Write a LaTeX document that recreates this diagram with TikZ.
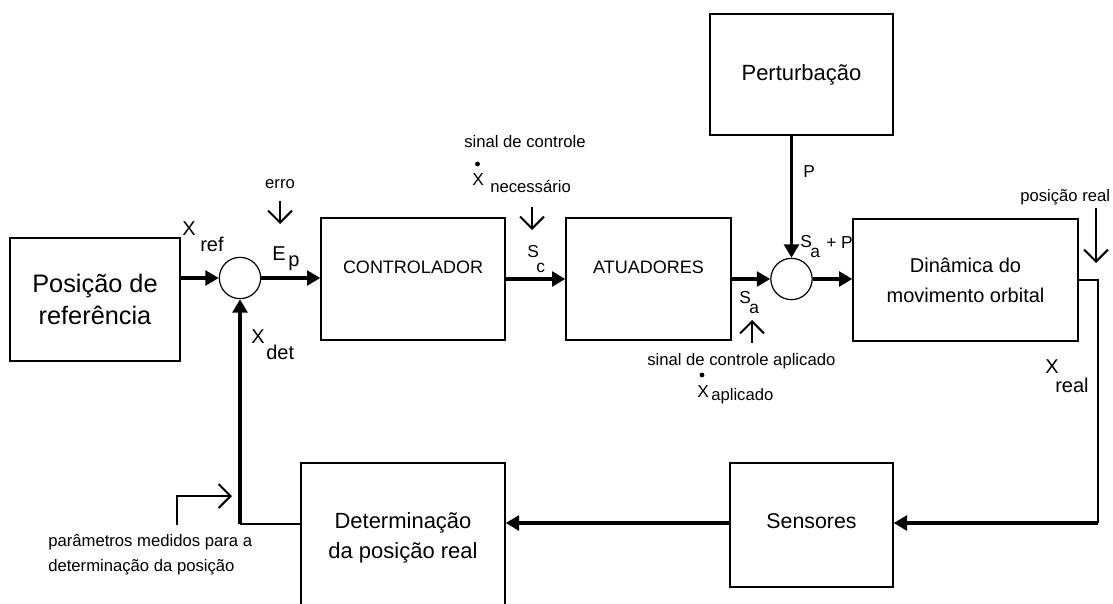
\documentclass[tikz,border=0pt]{standalone}
\usepackage{fontspec}
\setmainfont{Liberation Sans}
\usetikzlibrary{arrows.meta}
\begin{document}
\begin{tikzpicture}[x=0.75pt,y=-0.75pt,
  box/.style={draw, line width=1pt, inner sep=0pt, align=center},
  sumnode/.style={draw, circle, line width=0.9pt, minimum size=31pt, inner sep=0pt},
  sig/.style={line width=2.8pt, -{Triangle[length=10pt,width=11pt]}},
  thinln/.style={line width=1pt},
  note/.style={line width=1.5pt, -{Straight Barb[length=9pt,width=18pt]}},
  lbl/.style={inner sep=0pt, anchor=base west},
  lblc/.style={inner sep=0pt, anchor=base},
  small/.style={font=\fontsize{12.5}{15}\selectfont},
  big/.style={font=\fontsize{15}{18}\selectfont},
  mid/.style={font=\fontsize{13}{16}\selectfont}
]
\useasboundingbox (0,0) rectangle (1113,603);
\clip (0,0) rectangle (1113,603);
\fill[white] (0,0) rectangle (1113,603);

% blocks
\node[box, minimum width=127.5pt, minimum height=92.25pt, font=\fontsize{19}{24}\selectfont] (ref) at (95,299.5) {Posição de\\referência};
\node[box, minimum width=138pt, minimum height=91.5pt, font=\fontsize{13.5}{16}\selectfont, text height=1pt, text depth=10pt] (ctrl) at (413,279) {CONTROLADOR};
\node[box, minimum width=123.75pt, minimum height=91.5pt, font=\fontsize{13.5}{16}\selectfont, text height=1pt, text depth=10pt] (atu) at (648.5,279) {ATUADORES};
\node[box, minimum width=137.25pt, minimum height=90.75pt, font=\fontsize{16.5}{20}\selectfont] (pert) at (801.5,74.5) {Perturbação};
\node[box, minimum width=168.75pt, minimum height=91.5pt, font=\fontsize{15}{22.5}\selectfont] (din) at (965.5,280) {Dinâmica do\\movimento orbital};
\node[box, minimum width=122.25pt, minimum height=93pt, font=\fontsize{16}{20}\selectfont, text height=8pt, text depth=3.5pt] (sens) at (811.5,525) {Sensores};
\node[box, minimum width=153pt, minimum height=112.5pt, font=\fontsize{16.5}{22.5}\selectfont] (det) at (403,538) {Determinação\\da posição real};

% summing junctions
\node[sumnode] (s1) at (240,278) {};
\node[sumnode] (s2) at (791.5,279) {};

% routing points
\coordinate (c1) at (1098,280);
\coordinate (c2) at (1098,523);
\coordinate (c3) at (240,524);

% main signal connectors
\draw[sig] (ref.east |- s1.west) -- (s1.west);
\draw[sig] (s1.east) -- (s1.east -| ctrl.west);
\draw[sig] (ctrl.east) -- (atu.west);
\draw[sig] (atu.east |- s2.west) -- (s2.west);
\draw[sig] (s2.east) -- (s2.east -| din.west);
\draw[sig] (s2.north |- pert.south) -- (s2.north);
\draw[thinln] (din.east |- c1) -- (c1) -- (c2);
\draw[sig] (c2) -- (c2 -| sens.east);
\draw[sig] (sens.west |- c2) -- (c2 -| det.east);
\draw[thinln] (det.west |- c3) -- (c3);
\draw[sig] (c3) -- (s1.south);

% labels
\node[lbl, big] (xrefX) at (182,235) {X};
\node[lbl, big] (xrefS) at (200,251) {ref};
\node[lblc, small] (erro) at (280,188) {erro};
\node[lbl, big] (epE) at (272,260) {E};
\node[lbl, big] (epS) at (288,266) {p};
\node[lbl, big] (xdetX) at (251,343) {X};
\node[lbl, big] (xdetS) at (266,359) {det};

\node[lblc, small] (sc1) at (525,147) {sinal de controle};
\node[lbl, mid] (xnX) at (472,185) {X};
\fill (477.5,164) circle[radius=1.8pt];
\node[lbl, small] (xnS) at (490,192) {necessário};
\node[lbl, mid] (scS) at (527,257) {S};
\node[lbl, mid] (scC) at (536,272) {c};

\node[lbl, mid] (saS) at (739,303) {S};
\node[lbl, mid] (saA) at (749,313) {a};
\node[lbl, small] (sca) at (647,365) {sinal de controle aplicado};
\node[lbl, mid] (xaX) at (697,397) {X};
\fill (702,375) circle[radius=1.8pt];
\node[lbl, small] (xaS) at (711,400) {aplicado};

\node[lbl, mid] (pP) at (803,177) {P};
\node[lbl, mid] (spS) at (800,247) {S};
\node[lbl, mid] (spA) at (810,257) {a};
\node[lbl, mid] (spP) at (826,248) {+ P};

\node[lbl, small] (posr) at (1020,201) {posição real};
\node[lbl, big] (xrX) at (1045,373) {X};
\node[lbl, big] (xrS) at (1055,392) {real};

\node[lbl, small] (par1) at (48,546) {parâmetros medidos para a};
\node[lbl, small] (par2) at (48,571) {determinação da posição};

% annotation arrows
\coordinate (ea) at (280,201);
\coordinate (eb) at (280,224);
\draw[note] (ea) -- (eb);
\coordinate (na) at (532,207);
\coordinate (nb) at (532,230);
\draw[note] (na) -- (nb);
\coordinate (aa) at (752,343);
\coordinate (ab) at (752,320);
\draw[note] (aa) -- (ab);
\coordinate (ra) at (1096,208);
\coordinate (rb) at (1096,263);
\draw[note] (ra) -- (rb);
\coordinate (pa) at (177,525);
\coordinate (pb) at (177,496);
\coordinate (pc) at (232,496);
\draw[note] (pa) -- (pb) -- (pc);
\end{tikzpicture}
\end{document}
